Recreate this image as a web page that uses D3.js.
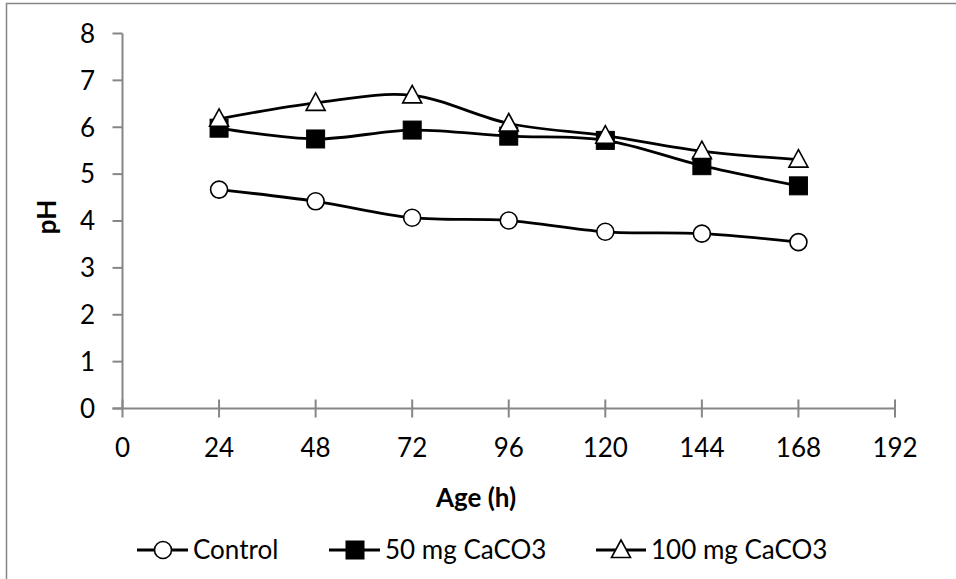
<!DOCTYPE html>
<html><head><meta charset="utf-8">
<script src="https://cdn.jsdelivr.net/npm/d3@7/dist/d3.min.js"></script>
<style>
html,body{margin:0;padding:0;background:#fff;}
svg text{font-family:Lato,"Open Sans",sans-serif;fill:#000;}
</style></head>
<body>
<svg id="chart" width="956" height="579"></svg>
<script>
const hours = [24, 48, 72, 96, 120, 144, 168];
const control = [4.67, 4.42, 4.07, 4.01, 3.77, 3.73, 3.55];
const caco50 = [5.98, 5.75, 5.94, 5.81, 5.72, 5.18, 4.75];
const caco100 = [6.18, 6.52, 6.68, 6.08, 5.82, 5.49, 5.31];
const seriesNames = ["Control", "50 mg CaCO3", "100 mg CaCO3"];
const xTicks = [0, 24, 48, 72, 96, 120, 144, 168, 192];
const yTicks = [0, 1, 2, 3, 4, 5, 6, 7, 8];

const svg = d3.select("#chart");
const axisColor = "#868686";
const fs = 26;

// outer border
svg.append("rect").attr("x", 6.5).attr("y", 3.5).attr("width", 960).attr("height", 600)
  .attr("fill", "none").attr("stroke", axisColor).attr("stroke-width", 1.5);

const x = d3.scaleLinear().domain([0, 192]).range([122.5, 895]);
const y = d3.scaleLinear().domain([0, 8]).range([408.5, 33.5]);

// y axis
svg.append("line").attr("x1", x(0)).attr("x2", x(0)).attr("y1", y(0)).attr("y2", y(8))
  .attr("stroke", axisColor).attr("stroke-width", 2);
svg.selectAll(".yt").data(yTicks).enter().append("line")
  .attr("x1", x(0) - 10).attr("x2", x(0)).attr("y1", d => y(d)).attr("y2", d => y(d))
  .attr("stroke", axisColor).attr("stroke-width", 2);
svg.selectAll(".yl").data(yTicks).enter().append("text")
  .attr("x", 95).attr("y", d => y(d)).attr("dy", "0.36em")
  .attr("text-anchor", "end").attr("font-size", fs).text(d => d);

// x axis
svg.append("line").attr("x1", x(0) - 10).attr("x2", x(192)).attr("y1", y(0)).attr("y2", y(0))
  .attr("stroke", axisColor).attr("stroke-width", 2);
svg.selectAll(".xt").data(xTicks).enter().append("line")
  .attr("x1", d => x(d)).attr("x2", d => x(d)).attr("y1", y(0) - 9).attr("y2", y(0) + 9)
  .attr("stroke", axisColor).attr("stroke-width", 2);
svg.selectAll(".xl").data(xTicks).enter().append("text")
  .attr("x", d => x(d)).attr("y", 457)
  .attr("text-anchor", "middle").attr("font-size", fs).text(d => d);

// axis titles
svg.append("text").attr("x", 476).attr("y", 507).attr("text-anchor", "middle")
  .attr("font-size", fs).attr("font-weight", "bold").text("Age (h)");
svg.append("text").attr("transform", "translate(56,217) rotate(-90)")
  .attr("text-anchor", "middle").attr("font-size", fs).attr("font-weight", "bold").text("pH");

const line = d3.line().x(d => x(d[0])).y(d => y(d[1])).curve(d3.curveCardinal.tension(0));

function marker(g, type, cx, cy) {
  if (type === 0) {
    g.append("circle").attr("cx", cx).attr("cy", cy).attr("r", 8.5)
      .attr("fill", "#fff").attr("stroke", "#000").attr("stroke-width", 1.6);
  } else if (type === 1) {
    g.append("rect").attr("x", cx - 9).attr("y", cy - 9).attr("width", 18).attr("height", 18)
      .attr("fill", "#000").attr("stroke", "#000").attr("stroke-width", 1);
  } else {
    g.append("path").attr("d", `M${cx},${cy - 10}L${cx + 9.5},${cy + 7.5}L${cx - 9.5},${cy + 7.5}Z`)
      .attr("fill", "#fff").attr("stroke", "#000").attr("stroke-width", 1.6).attr("stroke-linejoin", "miter");
  }
}

const allSeries = [control, caco50, caco100];
allSeries.forEach((vals, i) => {
  const pts = hours.map((h, j) => [h, vals[j]]);
  const g = svg.append("g");
  g.append("path").attr("d", line(pts)).attr("fill", "none").attr("stroke", "#000")
    .attr("stroke-width", 2.8);
  pts.forEach(p => marker(g, i, x(p[0]), y(p[1])));
});

// legend
const legendItems = [
  {lx1: 137, lx2: 188, mx: 163, tx: 193},
  {lx1: 329, lx2: 380, mx: 355, tx: 385},
  {lx1: 596, lx2: 646, mx: 621, tx: 651}
];
const ly = 550;
legendItems.forEach((it, i) => {
  const g = svg.append("g");
  g.append("line").attr("x1", it.lx1).attr("x2", it.lx2).attr("y1", ly).attr("y2", ly)
    .attr("stroke", "#000").attr("stroke-width", 2.8);
  marker(g, i, it.mx, ly);
  g.append("text").attr("x", it.tx).attr("y", 559).attr("font-size", fs).text(seriesNames[i]);
});
</script>
</body></html>
